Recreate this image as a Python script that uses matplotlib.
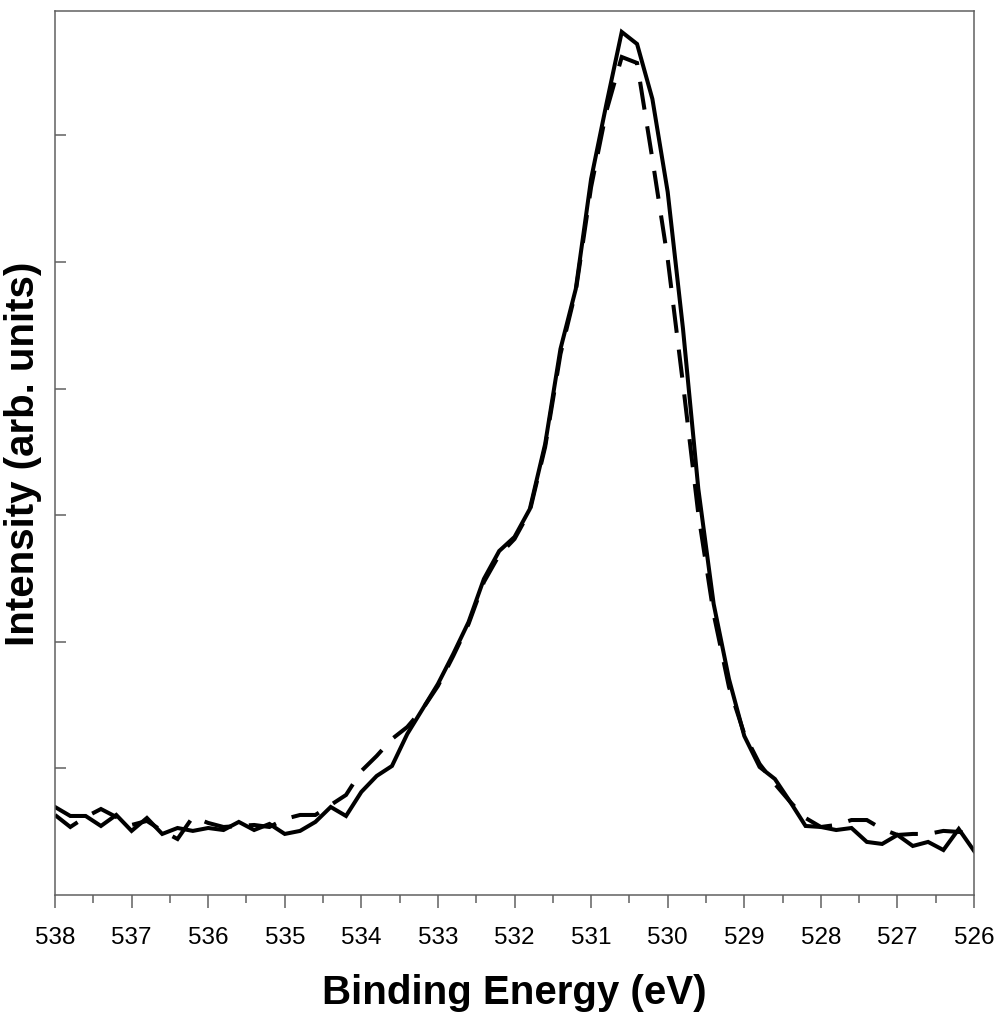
import numpy as np
import matplotlib
matplotlib.use("Agg")
import matplotlib.pyplot as plt
from matplotlib.ticker import MultipleLocator

plt.rcParams['font.family'] = ['Liberation Sans', 'DejaVu Sans']

# Binding energy grid (eV), 538 -> 526 in 0.2 eV steps
energy = np.round(np.linspace(538.0, 526.0, 61), 2)

# Measured spectrum (solid), arb. units
measured = [
    0.695, 0.624, 0.624, 0.545, 0.632, 0.506, 0.608, 0.482, 0.529, 0.506,
    0.529, 0.513, 0.577, 0.513, 0.561, 0.482, 0.506, 0.577, 0.695, 0.624,
    0.814, 0.940, 1.019, 1.272, 1.469, 1.667, 1.904, 2.156, 2.496, 2.717,
    2.828, 3.049, 3.562, 4.313, 4.787, 5.656, 6.248, 6.817, 6.722, 6.288,
    5.553, 4.471, 3.207, 2.299, 1.706, 1.256, 1.011, 0.916, 0.735, 0.545,
    0.537, 0.513, 0.529, 0.419, 0.403, 0.474, 0.387, 0.419, 0.355, 0.521,
    0.348,
]

# Second spectrum (dashed), arb. units
second = [
    0.632, 0.537, 0.616, 0.679, 0.616, 0.553, 0.585, 0.506, 0.442, 0.616,
    0.569, 0.537, 0.545, 0.553, 0.537, 0.600, 0.632, 0.632, 0.711, 0.790,
    0.979, 1.098, 1.232, 1.327, 1.469, 1.651, 1.888, 2.141, 2.472, 2.686,
    2.812, 3.033, 3.539, 4.273, 4.771, 5.592, 6.193, 6.619, 6.572, 5.814,
    5.024, 4.036, 3.009, 2.220, 1.643, 1.272, 1.035, 0.877, 0.735, 0.608,
    0.537, 0.553, 0.592, 0.592, 0.521, 0.474, 0.482, 0.482, 0.506, 0.498,
    0.482,
]

xticks = list(range(538, 525, -1))

fig = plt.figure(figsize=(9.98, 10.20), dpi=100)
ax = fig.add_axes([0.0551, 0.1216, 0.9209, 0.8667])

ax.plot(energy, second, color='black', lw=2.9, linestyle=(0, (7, 4.2)),
        dash_capstyle='butt', dash_joinstyle='miter')
ax.plot(energy, measured, color='black', lw=2.9, solid_joinstyle='miter')

ax.set_xlim(538, 526)
ax.set_ylim(0, 6.983)

ax.set_xticks(xticks)
ax.set_xticklabels([str(t) for t in xticks])
ax.xaxis.set_minor_locator(MultipleLocator(0.5))
ax.tick_params(axis='x', which='major', direction='out', length=9, width=1.1,
               color='#606060', labelsize=17.5, pad=13)
ax.tick_params(axis='x', which='minor', direction='out', length=6, width=1.1,
               color='#606060')

ax.set_yticks([1, 2, 3, 4, 5, 6])
ax.set_yticklabels([])
ax.tick_params(axis='y', which='major', direction='in', length=8, width=1.1,
               color='#606060')

for s in ax.spines.values():
    s.set_color('#606060')
    s.set_linewidth(1.1)

ax.set_xlabel('Binding Energy (eV)', fontsize=29, fontweight='bold', labelpad=18)
ax.set_ylabel('Intensity (arb. units)', fontsize=29, fontweight='bold', labelpad=6)

fig.savefig('out.png', dpi=100, facecolor='white')
